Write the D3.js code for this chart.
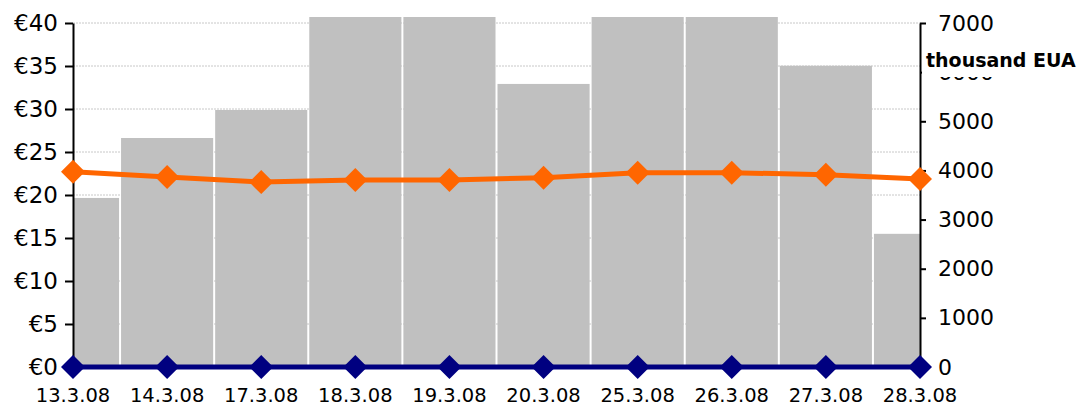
<!DOCTYPE html>
<html>
<head>
<meta charset="utf-8">
<script src="https://cdn.jsdelivr.net/npm/d3@7"></script>
<style>
  body { margin: 0; background: #fff; }
  text { font-family: "DejaVu Sans", sans-serif; fill: #000; }
</style>
</head>
<body>
<svg></svg>
<script>
var width = 1083;
var height = 406;

// data
var dates = ['13.3.08', '14.3.08', '17.3.08', '18.3.08', '19.3.08',
  '20.3.08', '25.3.08', '26.3.08', '27.3.08', '28.3.08'];
// volume, thousand EUA (bars above 7000 run off the top of the plot)
var volume = [3440, 4660, 5230, 7800, 7800, 5760, 7800, 7800, 6130, 2710];
// price, euro
var priceA = [22.7, 22.1, 21.5, 21.75, 21.75, 22.0, 22.6, 22.6, 22.35, 21.85];
var priceB = [0, 0, 0, 0, 0, 0, 0, 0, 0, 0];
var leftTicks = [0, 5, 10, 15, 20, 25, 30, 35, 40];
var rightTicks = [0, 1000, 2000, 3000, 4000, 5000, 6000, 7000];

var plotLeft = 73, plotRight = 920, plotTop = 23, plotBottom = 367;

var svg = d3.select('svg')
  .attr('width', width)
  .attr('height', height);

var xScale = d3.scalePoint()
  .domain(dates)
  .range([plotLeft, plotRight]);

var yLeft = d3.scaleLinear()
  .domain([0, 40])
  .range([plotBottom, plotTop]);

var yRight = d3.scaleLinear()
  .domain([0, 7000])
  .range([plotBottom, plotTop]);

var step = xScale.step();

svg.append('clipPath')
  .attr('id', 'plot')
  .append('rect')
  .attr('x', plotLeft)
  .attr('y', plotTop - 6)
  .attr('width', plotRight - plotLeft)
  .attr('height', plotBottom - plotTop + 6);

// gridlines
svg.append('g')
  .selectAll('line')
  .data(leftTicks.slice(1))
  .enter()
  .append('line')
  .attr('x1', plotLeft)
  .attr('x2', plotRight)
  .attr('y1', d => yLeft(d))
  .attr('y2', d => yLeft(d))
  .attr('stroke', '#c8c8c8')
  .attr('stroke-width', 1)
  .attr('stroke-dasharray', '2,1');

// bars
svg.append('g')
  .attr('clip-path', 'url(#plot)')
  .selectAll('rect')
  .data(volume)
  .enter()
  .append('rect')
  .attr('x', (d, i) => xScale(dates[i]) - step / 2 + 1)
  .attr('width', step - 2)
  .attr('y', d => yRight(d))
  .attr('height', d => plotBottom - yRight(d))
  .attr('fill', '#c0c0c0');

// axes
var axisLeft = d3.axisLeft(yLeft)
  .tickValues(leftTicks)
  .tickSize(8)
  .tickPadding(7)
  .tickSizeOuter(0)
  .tickFormat(d => '€' + d);

var axisRight = d3.axisRight(yRight)
  .tickValues(rightTicks)
  .tickSize(6)
  .tickPadding(12)
  .tickSizeOuter(0)
  .tickFormat(d3.format('d'));

var gl = svg.append('g')
  .attr('transform', 'translate(' + plotLeft + ',0)')
  .call(axisLeft);

var gr = svg.append('g')
  .attr('transform', 'translate(' + plotRight + ',0)')
  .call(axisRight);

[gl, gr].forEach(g => {
  g.select('.domain').attr('stroke', '#000').attr('stroke-width', 2);
  g.selectAll('.tick line').attr('stroke', '#000').attr('stroke-width', 2);
  g.selectAll('.tick text')
    .style('font-family', '"DejaVu Sans", sans-serif')
    .attr('fill', '#000');
});
gl.selectAll('.tick text').style('font-size', '23px');
gr.selectAll('.tick text').style('font-size', '22px');

svg.append('line')
  .attr('x1', plotLeft)
  .attr('x2', plotRight)
  .attr('y1', plotBottom)
  .attr('y2', plotBottom)
  .attr('stroke', '#000')
  .attr('stroke-width', 2);

// category labels
svg.append('g')
  .selectAll('text')
  .data(dates)
  .enter()
  .append('text')
  .attr('x', d => xScale(d))
  .attr('y', 402)
  .style('text-anchor', 'middle')
  .style('font-size', '19.5px')
  .text(d => d);

// axis title, on a white patch that hides most of the 6000 label
svg.append('rect')
  .attr('x', 922)
  .attr('y', 46)
  .attr('width', 161)
  .attr('height', 31)
  .attr('fill', '#fff');

svg.append('text')
  .attr('x', 926)
  .attr('y', 67)
  .style('font-size', '19px')
  .style('font-weight', 'bold')
  .text('thousand EUA');

// price lines
var diamond = 'M0,-12L12,0L0,12L-12,0Z';

function drawLine(values, color) {
  var line = d3.line()
    .x((d, i) => xScale(dates[i]))
    .y(d => yLeft(d));

  svg.append('path')
    .datum(values)
    .attr('d', line)
    .attr('fill', 'none')
    .attr('stroke', color)
    .attr('stroke-width', 5);

  svg.append('g')
    .selectAll('path')
    .data(values)
    .enter()
    .append('path')
    .attr('d', diamond)
    .attr('transform', (d, i) => 'translate(' + xScale(dates[i]) + ',' + yLeft(d) + ')')
    .attr('fill', color);
}

drawLine(priceA, '#ff6600');
drawLine(priceB, '#000080');
</script>
</body>
</html>
